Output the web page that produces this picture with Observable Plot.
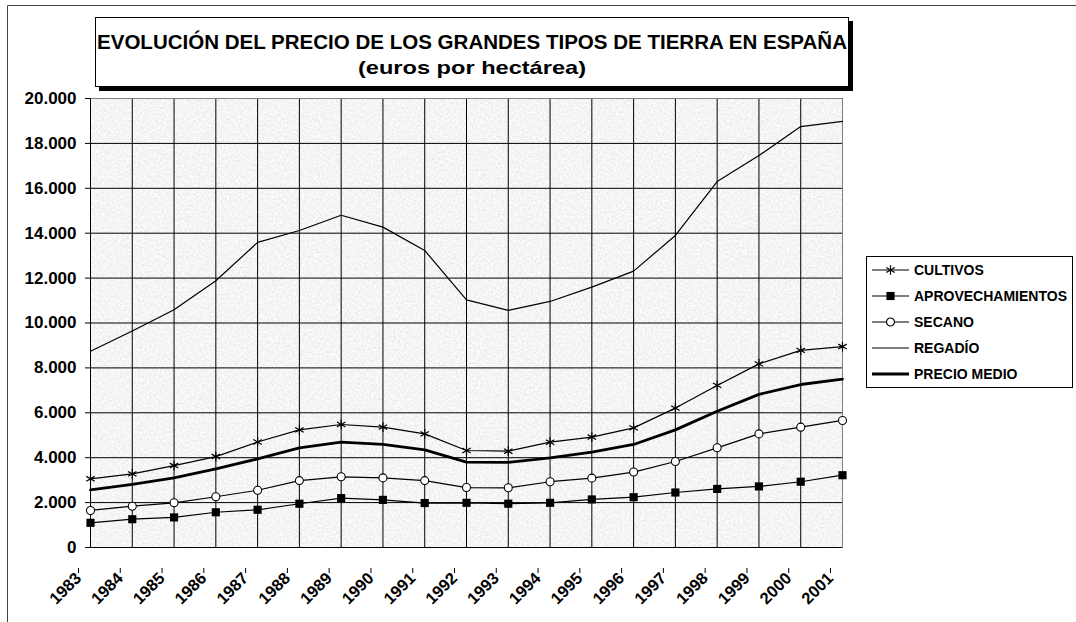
<!DOCTYPE html>
<html>
<head>
<meta charset="utf-8">
<script src="https://cdn.jsdelivr.net/npm/d3@7"></script>
<script src="https://cdn.jsdelivr.net/npm/@observablehq/plot@0.6"></script>
<style>
  html, body { margin: 0; padding: 0; background: #fff; }
  #chart { width: 1076px; height: 622px; overflow: hidden; }
</style>
</head>
<body>
<div id="chart"></div>
<script>
const years = [1983,1984,1985,1986,1987,1988,1989,1990,1991,1992,1993,1994,1995,1996,1997,1998,1999,2000,2001];
const cultivos = [3060,3280,3650,4050,4700,5240,5480,5360,5060,4320,4290,4690,4920,5330,6210,7220,8180,8780,8950];
const aprovechamientos = [1100,1260,1340,1570,1680,1950,2200,2120,1980,1990,1950,1990,2140,2240,2450,2610,2720,2930,3220];
const secano = [1650,1840,1990,2260,2550,2980,3150,3100,2980,2670,2660,2930,3090,3360,3830,4440,5060,5360,5660];
const regadio = [8745,9640,10590,11880,13590,14120,14800,14270,13230,11030,10560,10960,11600,12310,13900,16300,17460,18750,18980];
const precioMedio = [2570,2810,3100,3500,3950,4440,4690,4590,4350,3800,3790,3990,4250,4590,5240,6070,6820,7260,7500];
const yTicks = [0,2000,4000,6000,8000,10000,12000,14000,16000,18000,20000];
const seriesNames = ["CULTIVOS","APROVECHAMIENTOS","SECANO","REGADÍO","PRECIO MEDIO"];
const titleText = "EVOLUCIÓN DEL PRECIO DE LOS GRANDES TIPOS DE TIERRA EN ESPAÑA";
const subtitleText = "(euros por hectárea)";

const FONT = "'Liberation Sans', Arial, Helvetica, sans-serif";
const fmt = d3.formatLocale({decimal: ",", thousands: ".", grouping: [3], currency: ["", ""]}).format(",");

const plot = Plot.plot({
  width: 1076,
  height: 622,
  marginLeft: 90,
  marginRight: 234,
  marginTop: 98,
  marginBottom: 75,
  style: {fontFamily: FONT, fontWeight: "bold", background: "transparent", color: "#000", overflow: "visible"},
  x: {domain: [1983, 2001]},
  y: {domain: [0, 20000]},
  marks: [
    Plot.frame({fill: "#e8e8e8", stroke: "none", ariaLabel: "granite"}),
    Plot.gridY(yTicks, {stroke: "#000", strokeOpacity: 1, strokeWidth: 1}),
    Plot.gridX(years, {stroke: "#000", strokeOpacity: 1, strokeWidth: 1}),
    Plot.frame({stroke: "#808080"}),
    Plot.ruleX([1983], {stroke: "#000"}),
    Plot.ruleY([0], {stroke: "#000"}),
    Plot.axisY(yTicks, {tickFormat: fmt, fontSize: 17, tickSize: 5, tickPadding: 9, label: null, stroke: "#000"}),
    Plot.axisX(years, {tickFormat: d => String(d), tickRotate: -45, fontSize: 16.5, tickSize: 5, tickPadding: 2, dx: -12, dy: 21, label: null, stroke: "#000"}),
    Plot.line(years, {x: years, y: regadio, stroke: "#000", strokeWidth: 1.2}),
    Plot.line(years, {x: years, y: precioMedio, stroke: "#000", strokeWidth: 2.8}),
    Plot.line(years, {x: years, y: cultivos, stroke: "#000", strokeWidth: 1.2}),
    Plot.line(years, {x: years, y: secano, stroke: "#000", strokeWidth: 1.2}),
    Plot.line(years, {x: years, y: aprovechamientos, stroke: "#000", strokeWidth: 1.2}),
    Plot.dot(years, {x: years, y: cultivos, symbol: "asterisk", r: 4.6, stroke: "#000", strokeWidth: 1.2}),
    Plot.dot(years, {x: years, y: secano, symbol: "circle", r: 4, fill: "#fff", stroke: "#000", strokeWidth: 1.1}),
    Plot.dot(years, {x: years, y: aprovechamientos, symbol: "square", r: 4.6, fill: "#000", stroke: "none"})
  ]
});

document.getElementById("chart").appendChild(plot);

const svg = d3.select(plot);

// Light granite-like texture for the plot background
const defs = svg.insert("defs", ":first-child");
const filt = defs.append("filter").attr("id", "granite").attr("x", 0).attr("y", 0).attr("width", 1).attr("height", 1);
filt.append("feTurbulence").attr("type", "fractalNoise").attr("baseFrequency", 0.45).attr("numOctaves", 2).attr("seed", 7).attr("result", "noise");
filt.append("feColorMatrix").attr("in", "noise").attr("type", "matrix")
  .attr("values", "0.3 0 0 0 0.76  0.3 0 0 0 0.76  0.3 0 0 0 0.76  0 0 0 0 1");
svg.selectAll("[aria-label=granite]").each(function() {
  if (this.tagName === "rect") this.setAttribute("filter", "url(#granite)");
  else d3.select(this).selectAll("rect").attr("filter", "url(#granite)");
});

// Decorations: outer frame, title box, legend
const deco = svg.append("g").attr("font-family", FONT).attr("font-weight", "bold").attr("text-anchor", "start");

deco.append("path").attr("d", "M7.5,622 V5.5 H1076").attr("fill", "none").attr("stroke", "#444").attr("stroke-width", 1);

// Title box with shadow
deco.append("rect").attr("x", 99).attr("y", 21).attr("width", 754).attr("height", 70).attr("fill", "#000");
deco.append("rect").attr("x", 95.5).attr("y", 17.5).attr("width", 753).attr("height", 69).attr("fill", "#fff").attr("stroke", "#000");
deco.append("text").attr("x", 97).attr("y", 49).attr("text-anchor", "start").attr("font-size", 20)
  .attr("textLength", 750).attr("lengthAdjust", "spacingAndGlyphs").text(titleText);
deco.append("text").attr("x", 358).attr("y", 74).attr("text-anchor", "start").attr("font-size", 19)
  .attr("textLength", 228).attr("lengthAdjust", "spacingAndGlyphs").text(subtitleText);

// Legend
const lg = deco.append("g");
lg.append("rect").attr("x", 866.5).attr("y", 256.5).attr("width", 206).attr("height", 131).attr("fill", "#fff").attr("stroke", "#000");
const symbols = [
  {type: d3.symbolAsterisk, fill: "none", stroke: "#000", r: 4.6},
  {type: d3.symbolSquare, fill: "#000", stroke: "none", r: 4.6},
  {type: d3.symbolCircle, fill: "#fff", stroke: "#000", r: 4},
  null,
  null
];
seriesNames.forEach((name, i) => {
  const y = 270 + i * 26;
  lg.append("line").attr("x1", 872).attr("x2", 909).attr("y1", y).attr("y2", y)
    .attr("stroke", "#000").attr("stroke-width", i === 4 ? 2.8 : 1.2);
  const s = symbols[i];
  if (s) {
    lg.append("path")
      .attr("d", d3.symbol(s.type, Math.PI * s.r * s.r)())
      .attr("transform", `translate(890.5,${y})`)
      .attr("fill", s.fill).attr("stroke", s.stroke).attr("stroke-width", 1.2);
  }
  lg.append("text").attr("x", 914).attr("y", y).attr("dy", "0.36em").attr("text-anchor", "start")
    .attr("font-size", 14).text(name);
});
</script>
</body>
</html>
